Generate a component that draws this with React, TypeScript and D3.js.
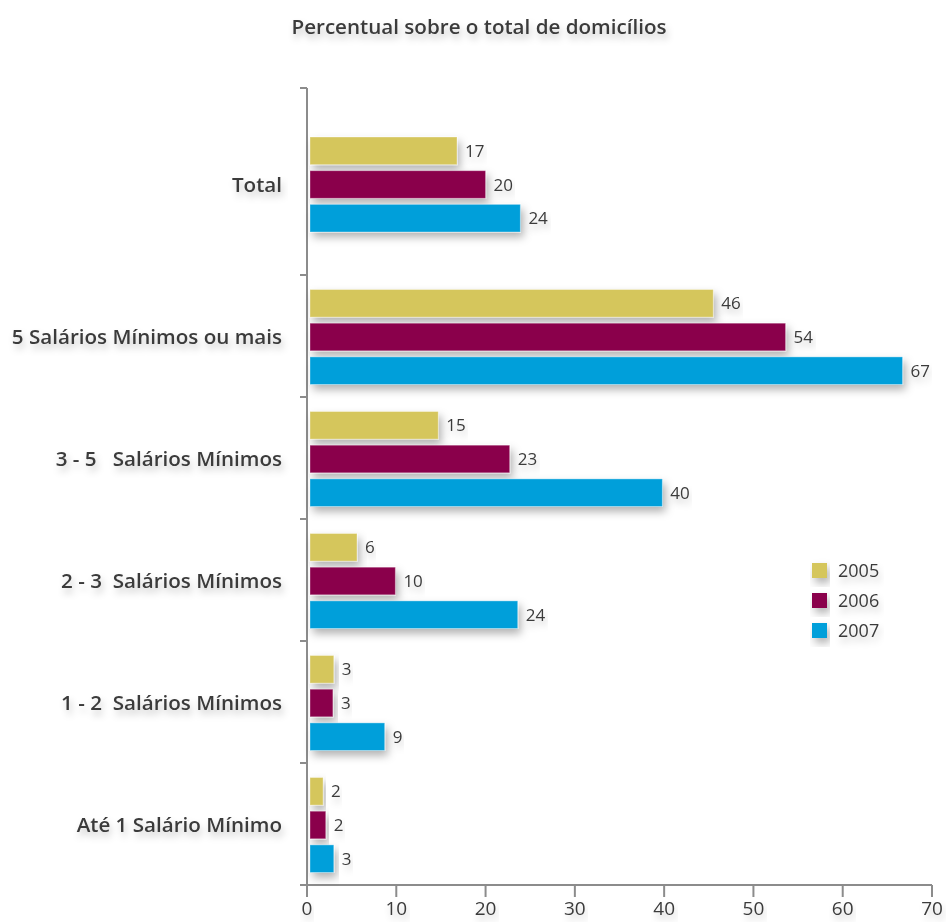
import React from "react";
import * as d3 from "d3";

const title = "Percentual sobre o total de domicílios";
const categories = [
  "Total",
  "5 Salários Mínimos ou mais",
  "3 - 5   Salários Mínimos",
  "2 - 3  Salários Mínimos",
  "1 - 2  Salários Mínimos",
  "Até 1 Salário Mínimo",
];
const years = ["2005", "2006", "2007"];
const values2005 = [16.8, 45.5, 14.7, 5.6, 3.0, 1.8];
const values2006 = [20.0, 53.6, 22.7, 9.9, 2.9, 2.1];
const values2007 = [23.9, 66.7, 39.8, 23.6, 8.7, 3.0];
const seriesValues = [values2005, values2006, values2007];
const colors = ["#D5C65C", "#8A004B", "#009FDA"];
const xTicks = [0, 10, 20, 30, 40, 50, 60, 70];

const W = 947;
const H = 922;
const plotTop = 88;
const totalBottom = 275;
const plotBottom = 885;
const x0 = 307;
const x1 = 932;
const textColor = "#3b3b3b";
const axisColor = "#8c8c8c";
const font = "'Open Sans', 'Noto Sans', sans-serif";

export default function App() {
  const x = d3.scaleLinear().domain([0, 70]).range([x0, x1]);
  const lowerCats = categories.slice(1);
  const yLower = d3.scaleBand().domain(lowerCats).range([totalBottom, plotBottom]);
  const centerOf = (c: string) =>
    c === categories[0]
      ? (plotTop + totalBottom) / 2 + 3
      : (yLower(c) as number) + yLower.bandwidth() / 2 + 1;
  const groupH = 95;
  const inner = d3
    .scaleBand()
    .domain(years)
    .range([-groupH / 2, groupH / 2])
    .paddingInner(0.18);
  const bw = inner.bandwidth();
  const catTicks = [plotTop, totalBottom, ...lowerCats.map((c) => (yLower(c) as number) + yLower.step())];

  return (
    <svg
      width={W}
      height={H}
      style={{ position: "absolute", left: 0, top: 0, background: "#fff" }}
      fontFamily={font}
    >
      <defs>
        <filter id="bshadow" x="-10%" y="-30%" width="130%" height="190%">
          <feDropShadow dx="3" dy="5" stdDeviation="4" floodColor="#000" floodOpacity="0.3" />
        </filter>
        <filter id="tshadow" x="-10%" y="-50%" width="120%" height="250%">
          <feDropShadow dx="2" dy="5" stdDeviation="3.5" floodColor="#000" floodOpacity="0.22" />
        </filter>
      </defs>

      <text
        x={479}
        y={34}
        textAnchor="middle"
        fontSize={20.6}
        fontWeight={600}
        fill={textColor}
        filter="url(#tshadow)"
      >
        {title}
      </text>

      {/* y axis */}
      <line x1={x0} x2={x0} y1={plotTop} y2={plotBottom} stroke={axisColor} strokeWidth={2} />
      {catTicks.map((t, i) => (
        <line key={"yt" + i} x1={x0 - 7} x2={x0} y1={t} y2={t} stroke={axisColor} strokeWidth={2} />
      ))}

      {/* x axis */}
      <line x1={x0} x2={x1} y1={plotBottom} y2={plotBottom} stroke={axisColor} strokeWidth={2} />
      {xTicks.map((t) => (
        <g key={"xt" + t}>
          <line x1={x(t)} x2={x(t)} y1={plotBottom} y2={plotBottom + 12} stroke={axisColor} strokeWidth={2} />
          <text x={x(t)} y={915} textAnchor="middle" fontSize={19} fill={textColor} filter="url(#tshadow)">
            {t}
          </text>
        </g>
      ))}

      {/* bars */}
      {categories.map((c, ci) => {
        const cy = centerOf(c);
        return (
          <g key={c}>
            <text
              x={282}
              y={cy}
              dy="0.36em"
              textAnchor="end"
              fontSize={20.6}
              fontWeight={600}
              fill={textColor}
              style={{ whiteSpace: "pre" }}
              filter="url(#tshadow)"
            >
              {c}
            </text>
            {years.map((yr, si) => {
              const v = seriesValues[si][ci];
              const by = cy + (inner(yr) as number);
              return (
                <g key={yr}>
                  <rect
                    x={x(0) + 3}
                    y={by}
                    width={x(v) - x(0) - 3}
                    height={bw}
                    fill={colors[si]}
                    stroke="rgba(255,255,255,0.35)"
                    strokeWidth={1}
                    filter="url(#bshadow)"
                  />
                  <text
                    x={x(v) + 8}
                    y={by + bw / 2}
                    dy="0.36em"
                    fontSize={17}
                    fill={textColor}
                    filter="url(#tshadow)"
                  >
                    {Math.round(v)}
                  </text>
                </g>
              );
            })}
          </g>
        );
      })}

      {/* legend */}
      {years.map((yr, i) => (
        <g key={"lg" + yr} transform={`translate(812, ${563 + i * 30})`}>
          <rect width={15} height={15} fill={colors[i]} filter="url(#bshadow)" />
          <text x={26} y={7.5} dy="0.36em" fontSize={18} fill={textColor} filter="url(#tshadow)">
            {yr}
          </text>
        </g>
      ))}
    </svg>
  );
}
